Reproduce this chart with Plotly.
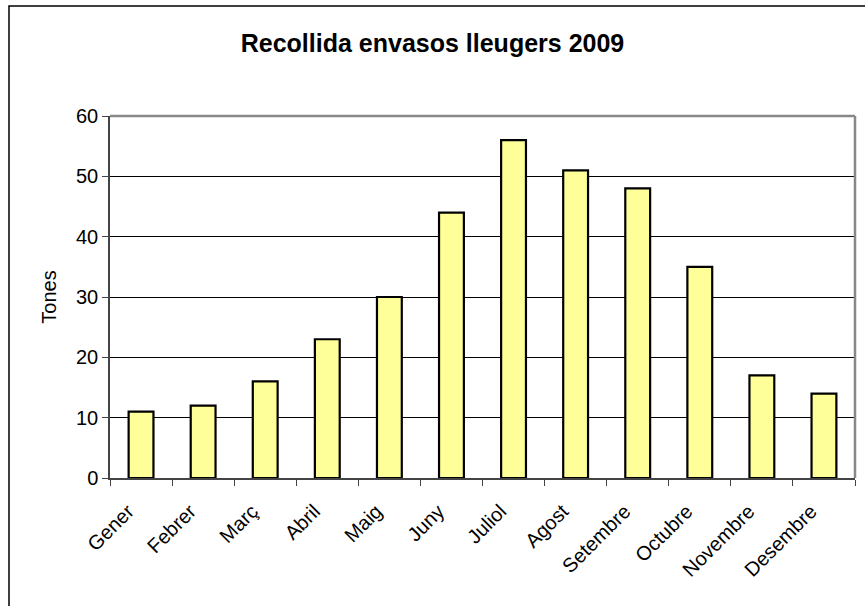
import plotly.graph_objects as go

months = ["Gener", "Febrer", "Març", "Abril", "Maig", "Juny", "Juliol",
          "Agost", "Setembre", "Octubre", "Novembre", "Desembre"]
tones = [11, 12, 16, 23, 30, 44, 56, 51, 48, 35, 17, 14]

L, R, T, B = 110, 10, 116, 128
W, H = 865, 606
pw, ph = W - L - R, H - T - B

fig = go.Figure()
fig.add_trace(go.Bar(
    x=months, y=tones, width=0.4,
    marker=dict(color="#FFFF99", line=dict(color="black", width=2.2)),
))

fig.update_layout(
    width=W, height=H,
    margin=dict(l=L, r=R, t=T, b=B, autoexpand=False),
    paper_bgcolor="white", plot_bgcolor="white",
    font=dict(family="Liberation Sans, Arial", size=20, color="black"),
    title=dict(text="<b>Recollida envasos lleugers 2009</b>",
               x=0.5, xanchor="center", y=1 - 43 / H, yanchor="middle",
               font=dict(size=25)),
    showlegend=False, bargap=0.6,
    xaxis=dict(showline=True, linecolor="#444", linewidth=1.5,
               ticks="outside", tickcolor="#444", ticklen=6,
               tickson="boundaries", tickangle=-45, automargin=False,
               ticklabelstandoff=12, ticklabelshift=-13,
               tickfont=dict(size=20), showgrid=False, mirror=False),
    yaxis=dict(range=[0, 60], dtick=10, showline=True, linecolor="#444",
               linewidth=1.5, ticks="outside", ticklen=6, tickcolor="#444",
               gridcolor="black", gridwidth=1, zeroline=False, automargin=False,
               title=dict(text="Tones", standoff=14, font=dict(size=20)),
               tickfont=dict(size=20)),
)

# plot area grey border (top, right)
fig.add_shape(type="line", xref="paper", yref="paper", x0=0, x1=1, y0=1, y1=1,
              line=dict(color="#888", width=2.5))
fig.add_shape(type="line", xref="paper", yref="paper", x0=1, x1=1, y0=0, y1=1,
              line=dict(color="#888", width=2.5))

# outer chart border
fig.add_shape(type="rect", xref="paper", yref="paper",
              x0=(9 - L) / pw, x1=(880 - L) / pw,
              y0=(H - B - 620) / ph, y1=(H - B - 6) / ph,
              line=dict(color="black", width=1.5), layer="below")

fig.write_html("out.html", config={"displayModeBar": False},
               post_script="document.body.style.margin='0';")
